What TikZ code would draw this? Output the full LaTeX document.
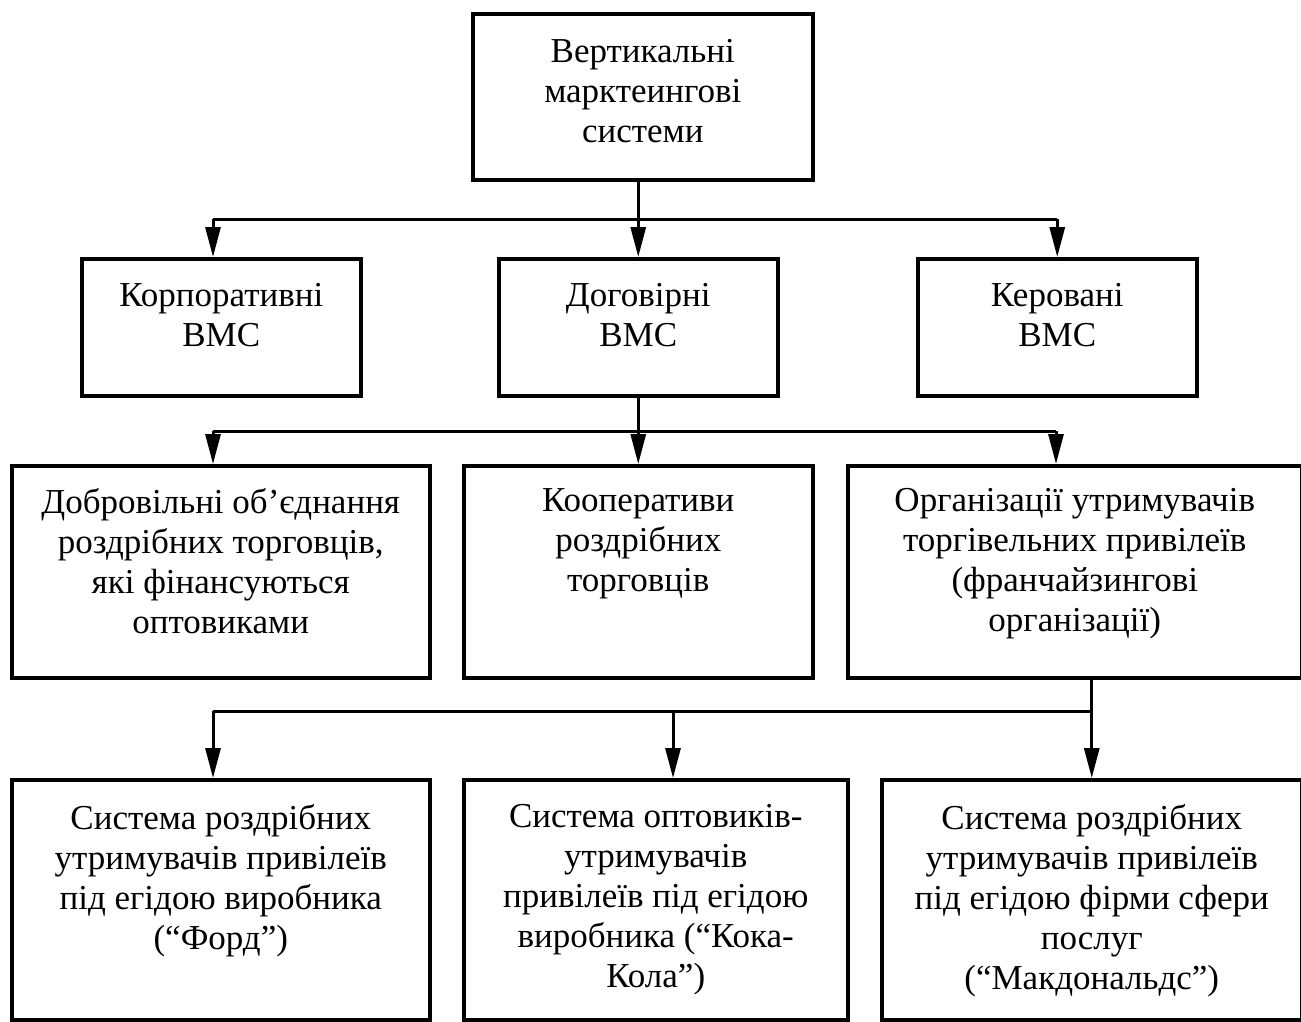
\documentclass[tikz,border=0pt]{standalone}
\usepackage{fontspec}
\setmainfont{Liberation Serif}
\usetikzlibrary{arrows.meta}
\begin{document}
\begin{tikzpicture}[x=1pt,y=-1pt,
  box/.style={draw,line width=3.5pt,anchor=north west,inner sep=0pt},
  txt/.style={anchor=north,align=center,inner sep=0pt,font=\fontsize{35}{40}\selectfont},
  line/.style={line width=3pt},
  arr/.style={line width=3pt,-{Triangle[length=30pt,width=15pt]}}]
\useasboundingbox (0,0) rectangle (1301,1021);
% boxes
\node[box,minimum width=340pt,minimum height=166pt] (top) at (471,12) {};
\node[box,minimum width=279pt,minimum height=137pt] (b1) at (80,257) {};
\node[box,minimum width=279pt,minimum height=137pt] (b2) at (497,257) {};
\node[box,minimum width=279pt,minimum height=137pt] (b3) at (916,257) {};
\node[box,minimum width=418pt,minimum height=212pt] (c1) at (10,464) {};
\node[box,minimum width=349pt,minimum height=212pt] (c2) at (462,464) {};
\node[box,minimum width=454pt,minimum height=212pt] (c3) at (846,464) {};
\node[box,minimum width=418pt,minimum height=240pt] (d1) at (10,778) {};
\node[box,minimum width=384pt,minimum height=240pt] (d2) at (462,778) {};
\node[box,minimum width=420pt,minimum height=240pt] (d3) at (880,778) {};
% texts
\node[txt] (ttop) at ([yshift=-27pt]top.north) {Вертикальні\\марктеингові\\системи};
\node[txt] (tb1) at ([yshift=-26pt]b1.north) {Корпоративні\\ВМС};
\node[txt] (tb2) at ([yshift=-26pt]b2.north) {Договірні\\ВМС};
\node[txt] (tb3) at ([yshift=-26pt]b3.north) {Керовані\\ВМС};
\node[txt] (tc1) at ([yshift=-24pt]c1.north) {Добровільні об’єднання\\роздрібних торговців,\\які фінансуються\\оптовиками};
\node[txt] (tc2) at ([yshift=-24pt]c2.north) {Кооперативи\\роздрібних\\торговців};
\node[txt] (tc3) at ([yshift=-24pt]c3.north) {Організації утримувачів\\торгівельних привілеїв\\(франчайзингові\\організації)};
\node[txt] (td1) at ([yshift=-26pt]d1.north) {Система роздрібних\\утримувачів привілеїв\\під егідою виробника\\(“Форд”)};
\node[txt] (td2) at ([yshift=-26pt]d2.north) {Система оптовиків-\\утримувачів\\привілеїв під егідою\\виробника (“Кока-\\Кола”)};
\node[txt] (td3) at ([yshift=-26pt]d3.north) {Система роздрібних\\утримувачів привілеїв\\під егідою фірми сфери\\послуг\\(“Макдональдс”)};
% bus coordinates
\coordinate (bus1) at (0,219);
\coordinate (bus2) at (0,431);
\coordinate (bus3) at (0,711);
\coordinate (x1) at (213,0);
\coordinate (x3) at (1056,0);
\coordinate (x4) at (673,0);
% level 1 -> 2
\draw[line] (b2.north |- top.south) -- (b2.north |- bus1);
\draw[line] (x1 |- bus1) -- (b3.north |- bus1);
\draw[arr] (x1 |- bus1) -- (x1 |- b1.north);
\draw[arr] (b2.north |- bus1) -- (b2.north);
\draw[arr] (b3.north |- bus1) -- (b3.north);
% level 2 -> 3
\draw[line] (b2.south) -- (b2.south |- bus2);
\draw[line] (x1 |- bus2) -- (x3 |- bus2);
\draw[arr] (x1 |- bus2) -- (x1 |- c1.north);
\draw[arr] (c2.north |- bus2) -- (c2.north);
\draw[arr] (x3 |- bus2) -- (x3 |- c3.north);
% level 3 -> 4
\draw[line] (d3.north |- c3.south) -- (d3.north |- bus3);
\draw[line] (x1 |- bus3) -- (d3.north |- bus3);
\draw[arr] (x1 |- bus3) -- (x1 |- d1.north);
\draw[arr] (x4 |- bus3) -- (x4 |- d2.north);
\draw[arr] (d3.north |- bus3) -- (d3.north);
\end{tikzpicture}
\end{document}
